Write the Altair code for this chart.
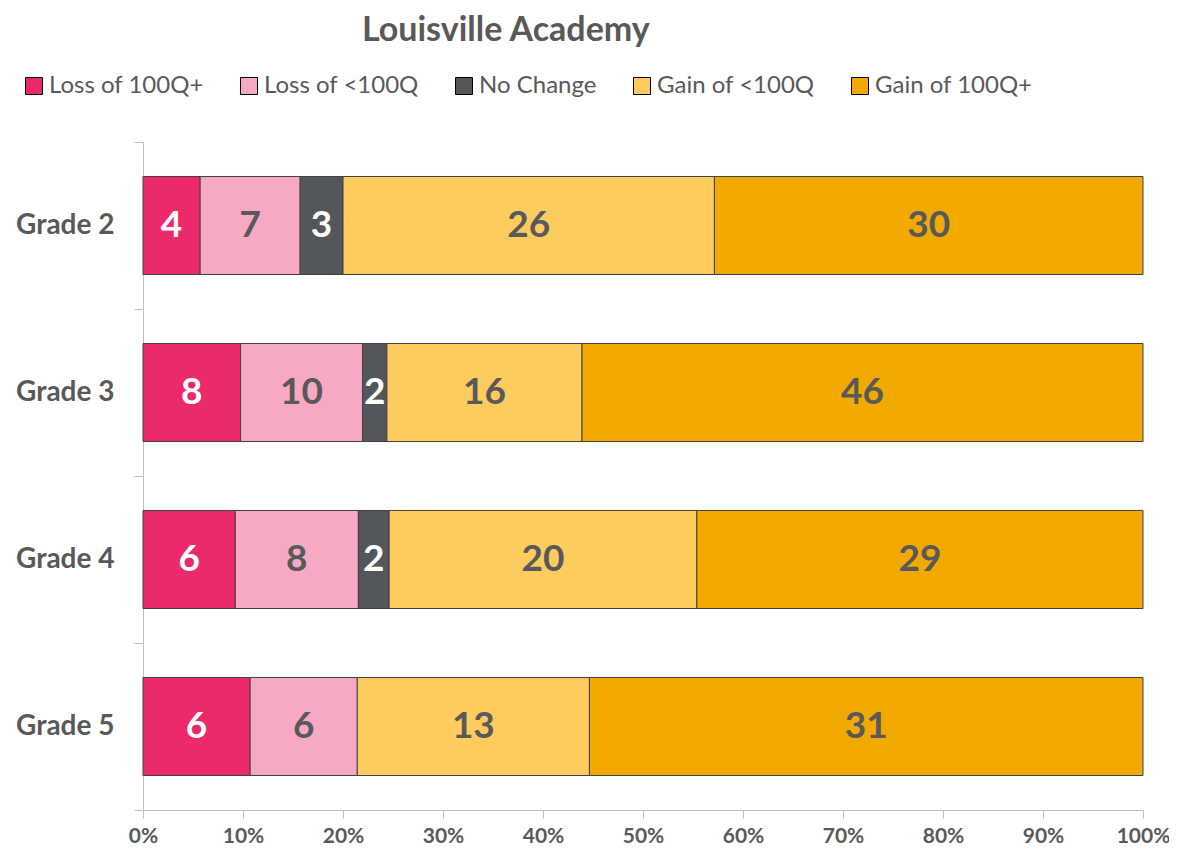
import altair as alt
import pandas as pd

grades = ["Grade 2", "Grade 3", "Grade 4", "Grade 5"]
categories = ["Loss of 100Q+", "Loss of <100Q", "No Change", "Gain of <100Q", "Gain of 100Q+"]
colors = ["#EC2A6B", "#F7A8C2", "#53575A", "#FECB5E", "#F2A900"]

loss_100 = [4, 8, 6, 6]
loss_lt100 = [7, 10, 8, 6]
no_change = [3, 2, 2, 0]
gain_lt100 = [26, 16, 20, 13]
gain_100 = [30, 46, 29, 31]

series = [loss_100, loss_lt100, no_change, gain_lt100, gain_100]
rows = []
for ci, (cat, vals) in enumerate(zip(categories, series)):
    for g, v in zip(grades, vals):
        rows.append({"grade": g, "cat": cat, "order": ci, "count": v})
df = pd.DataFrame(rows)

FONT = "Lato"
GRAY = "#595959"

base = alt.Chart(df).transform_filter("datum.count > 0").transform_stack(
    stack="count",
    groupby=["grade"],
    as_=["x0", "x1"],
    offset="normalize",
    sort=[alt.SortField("order", order="ascending")],
).transform_calculate(mid="(datum.x0 + datum.x1) / 2")

yenc = alt.Y(
    "grade:N",
    sort=grades,
    scale=alt.Scale(paddingInner=0, paddingOuter=0),
    axis=alt.Axis(
        title=None,
        tickBand="extent",
        tickSize=9,
        tickColor="#BFBFBF",
        domainColor="#BFBFBF",
        labelPadding=20,
        labelFont=FONT,
        labelFontSize=28,
        labelFontWeight="bold",
        labelColor=GRAY,
    ),
)

bars = base.mark_bar(
    stroke="#404040", strokeWidth=1, height=alt.RelativeBandSize(0.587)
).encode(
    x=alt.X(
        "x0:Q",
        scale=alt.Scale(domain=[0, 1]),
        axis=alt.Axis(
            title=None,
            format="%",
            values=[i / 10 for i in range(11)],
            grid=False,
            tickSize=8,
            tickColor="#BFBFBF",
            domainColor="#BFBFBF",
            labelPadding=7,
            labelFlush=False,
            labelFont=FONT,
            labelFontSize=21,
            labelFontWeight="bold",
            labelColor=GRAY,
        ),
    ),
    x2="x1:Q",
    y=yenc,
    color=alt.Color(
        "cat:N",
        scale=alt.Scale(domain=categories, range=colors),
        sort=categories,
        legend=alt.Legend(
            title=None,
            orient="none",
            direction="horizontal",
            columns=5,
            legendX=-121,
            legendY=-68,
            symbolType="square",
            symbolSize=289,
            symbolStrokeColor="#000000",
            symbolStrokeWidth=1,
            symbolOpacity=1,
            labelFont=FONT,
            labelFontSize=24,
            labelColor=GRAY,
            labelOffset=3,
            columnPadding=33,
        ),
    ),
)

labels = base.mark_text(font=FONT, fontSize=37, fontWeight="bold").encode(
    x=alt.X("mid:Q"),
    y=alt.Y("grade:N", sort=grades),
    text=alt.Text("count:Q"),
    color=alt.condition(
        "datum.cat == 'Loss of 100Q+' || datum.cat == 'No Change'",
        alt.value("white"),
        alt.value(GRAY),
    ),
)

chart = (
    alt.layer(bars, labels)
    .properties(
        width=1000,
        height=668,
        title=alt.TitleParams(
            "Louisville Academy",
            anchor="start",
            frame="group",
            dx=219,
            offset=26,
            font=FONT,
            fontSize=34,
            fontWeight="bold",
            color=GRAY,
        ),
        padding={"left": 135, "top": 134, "right": 26, "bottom": 38},
        autosize=alt.AutoSizeParams(type="none"),
    )
    .configure_view(stroke=None)
)

chart.save("out.html", embed_options={"renderer": "svg", "actions": False})
